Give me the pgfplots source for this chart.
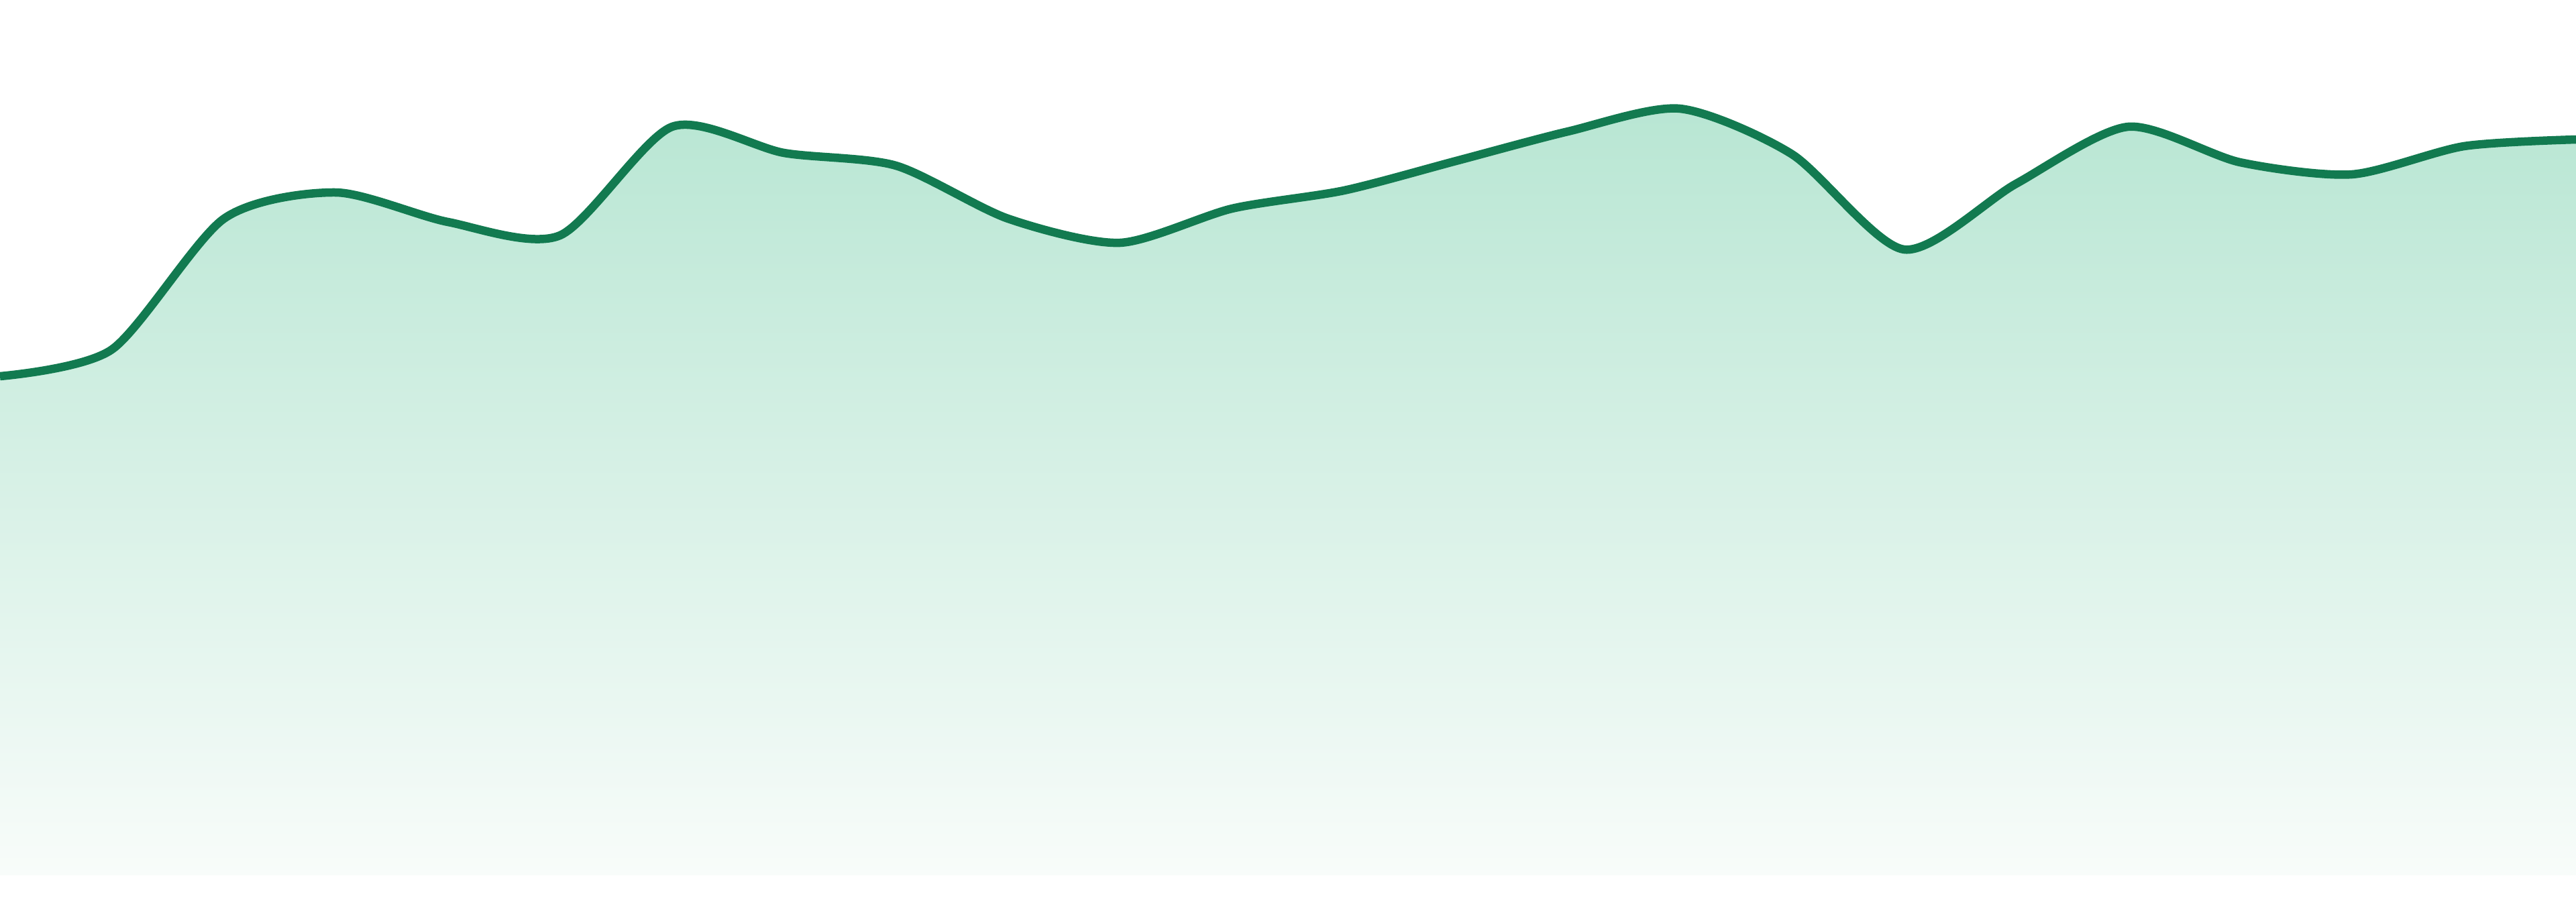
\documentclass[border=0pt]{standalone}
\usepackage{pgfplots}
\usepackage{pgfplotstable}
\pgfplotsset{compat=1.18}
\definecolor{linegreen}{HTML}{127A50}
\definecolor{filltop}{HTML}{B8E6D3}
\definecolor{fillbot}{HTML}{F8FCFA}
\pgfplotstableread{
x ypix
0 561
1 521
2 326
3 287
4 331
5 351
6 189
7 228
8 247
9 326
10 362
11 311
12 284
13 240
14 196
15 162
16 230
17 372
18 274
19 189
20 242
21 260
22 218
23 208
}\datatable
\begin{document}
\begin{tikzpicture}
\begin{axis}[
  scale only axis,
  width=384pt, height=134.4pt,
  xmin=0, xmax=23,
  ymin=-39, ymax=1305,
  axis lines=none,
  ticks=none,
  clip=true,
]
\addplot[draw=none, shade, top color=filltop, bottom color=fillbot, smooth, tension=0.45]
  table[x=x, y expr=1305-\thisrow{ypix}] {\datatable} \closedcycle;
\addplot[linegreen, line width=1.25pt, smooth, tension=0.45]
  table[x=x, y expr=1305-\thisrow{ypix}] {\datatable};
\end{axis}
\pgfresetboundingbox
\useasboundingbox (current axis.south west) rectangle (current axis.north east);
\end{tikzpicture}
\end{document}
